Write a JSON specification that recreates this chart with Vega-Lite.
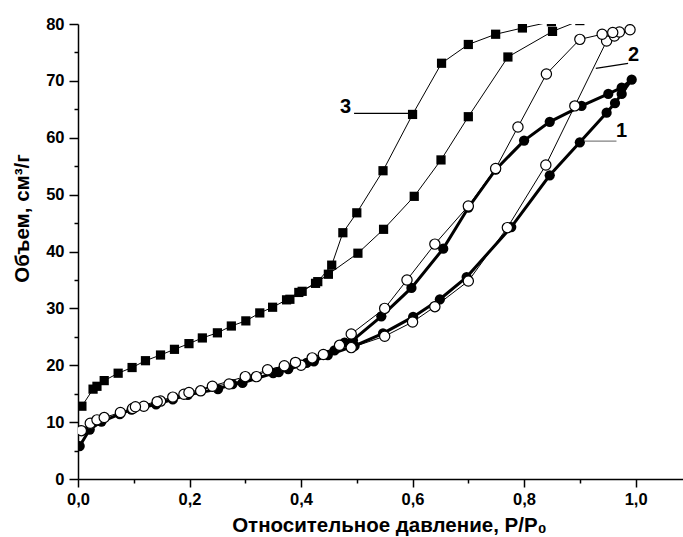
{
  "$schema": "https://vega.github.io/schema/vega-lite/v6.json",
  "width": 605,
  "height": 455,
  "autosize": {"type": "none"},
  "padding": {"left": 78, "top": 24, "right": 0, "bottom": 58},
  "background": "white",
  "config": {"view": {"stroke": null}, "font": "Liberation Sans"},
  "datasets": {
    "s1": [
      {"i": 1, "P": 0.003, "V": 5.8}, {"i": 2, "P": 0.021, "V": 8.7}, {"i": 3, "P": 0.042, "V": 10.1},
      {"i": 4, "P": 0.075, "V": 11.4}, {"i": 5, "P": 0.096, "V": 12.2}, {"i": 6, "P": 0.14, "V": 13.1},
      {"i": 7, "P": 0.17, "V": 14.0}, {"i": 8, "P": 0.197, "V": 14.8}, {"i": 9, "P": 0.251, "V": 15.8},
      {"i": 10, "P": 0.277, "V": 16.7}, {"i": 11, "P": 0.295, "V": 16.9}, {"i": 12, "P": 0.35, "V": 18.6},
      {"i": 13, "P": 0.377, "V": 19.3}, {"i": 14, "P": 0.423, "V": 20.7}, {"i": 15, "P": 0.448, "V": 21.8},
      {"i": 16, "P": 0.496, "V": 23.4}, {"i": 17, "P": 0.547, "V": 25.6}, {"i": 18, "P": 0.601, "V": 28.5},
      {"i": 19, "P": 0.649, "V": 31.6}, {"i": 20, "P": 0.697, "V": 35.5}, {"i": 21, "P": 0.777, "V": 44.3},
      {"i": 22, "P": 0.846, "V": 53.4}, {"i": 23, "P": 0.9, "V": 59.2}, {"i": 24, "P": 0.948, "V": 64.4},
      {"i": 25, "P": 0.963, "V": 66.1}, {"i": 26, "P": 0.975, "V": 67.7}, {"i": 27, "P": 0.993, "V": 70.2},
      {"i": 28, "P": 0.975, "V": 68.8}, {"i": 29, "P": 0.951, "V": 67.7}, {"i": 30, "P": 0.903, "V": 65.6},
      {"i": 31, "P": 0.846, "V": 62.8}, {"i": 32, "P": 0.8, "V": 59.5}, {"i": 33, "P": 0.749, "V": 54.4},
      {"i": 34, "P": 0.7, "V": 47.7}, {"i": 35, "P": 0.655, "V": 40.5}, {"i": 36, "P": 0.598, "V": 33.6},
      {"i": 37, "P": 0.544, "V": 28.6}, {"i": 38, "P": 0.493, "V": 24.4}, {"i": 39, "P": 0.478, "V": 24.0},
      {"i": 40, "P": 0.46, "V": 22.6}, {"i": 41, "P": 0.41, "V": 20.4}, {"i": 42, "P": 0.36, "V": 18.8}
    ],
    "s2": [
      {"i": 1, "P": 0.006, "V": 8.5}, {"i": 2, "P": 0.022, "V": 9.8}, {"i": 3, "P": 0.034, "V": 10.4},
      {"i": 4, "P": 0.047, "V": 10.8}, {"i": 5, "P": 0.076, "V": 11.7}, {"i": 6, "P": 0.098, "V": 12.4},
      {"i": 7, "P": 0.118, "V": 12.8}, {"i": 8, "P": 0.148, "V": 13.7}, {"i": 9, "P": 0.17, "V": 14.4},
      {"i": 10, "P": 0.19, "V": 14.9}, {"i": 11, "P": 0.22, "V": 15.5}, {"i": 12, "P": 0.241, "V": 16.3},
      {"i": 13, "P": 0.271, "V": 16.7}, {"i": 14, "P": 0.32, "V": 18.0}, {"i": 15, "P": 0.34, "V": 19.2},
      {"i": 16, "P": 0.37, "V": 19.9}, {"i": 17, "P": 0.4, "V": 20.0}, {"i": 18, "P": 0.44, "V": 21.9},
      {"i": 19, "P": 0.49, "V": 23.1}, {"i": 20, "P": 0.55, "V": 25.1}, {"i": 21, "P": 0.6, "V": 27.6},
      {"i": 22, "P": 0.64, "V": 30.3}, {"i": 23, "P": 0.7, "V": 34.8}, {"i": 24, "P": 0.77, "V": 44.2},
      {"i": 25, "P": 0.839, "V": 55.2}, {"i": 26, "P": 0.891, "V": 65.6}, {"i": 27, "P": 0.948, "V": 77.0},
      {"i": 28, "P": 0.962, "V": 77.9}, {"i": 29, "P": 0.99, "V": 79.0}, {"i": 30, "P": 0.971, "V": 78.6},
      {"i": 31, "P": 0.959, "V": 78.5}, {"i": 32, "P": 0.94, "V": 78.2}, {"i": 33, "P": 0.9, "V": 77.3},
      {"i": 34, "P": 0.84, "V": 71.2}, {"i": 35, "P": 0.789, "V": 61.9}, {"i": 36, "P": 0.749, "V": 54.6},
      {"i": 37, "P": 0.7, "V": 48.0}, {"i": 38, "P": 0.64, "V": 41.3}, {"i": 39, "P": 0.59, "V": 35.0},
      {"i": 40, "P": 0.55, "V": 30.0}, {"i": 41, "P": 0.49, "V": 25.5}, {"i": 42, "P": 0.469, "V": 23.5},
      {"i": 43, "P": 0.42, "V": 21.3}, {"i": 44, "P": 0.39, "V": 20.5}, {"i": 45, "P": 0.3, "V": 18.0},
      {"i": 46, "P": 0.199, "V": 15.2}, {"i": 47, "P": 0.142, "V": 13.6}, {"i": 48, "P": 0.103, "V": 12.7}
    ],
    "s3": [
      {"i": 1, "P": 0.007, "V": 12.8}, {"i": 2, "P": 0.027, "V": 15.8}, {"i": 3, "P": 0.034, "V": 16.3},
      {"i": 4, "P": 0.047, "V": 17.3}, {"i": 5, "P": 0.072, "V": 18.6}, {"i": 6, "P": 0.097, "V": 19.6},
      {"i": 7, "P": 0.121, "V": 20.8}, {"i": 8, "P": 0.148, "V": 21.8}, {"i": 9, "P": 0.173, "V": 22.8},
      {"i": 10, "P": 0.199, "V": 23.8}, {"i": 11, "P": 0.223, "V": 24.8}, {"i": 12, "P": 0.25, "V": 25.7},
      {"i": 13, "P": 0.275, "V": 26.9}, {"i": 14, "P": 0.301, "V": 27.8}, {"i": 15, "P": 0.326, "V": 29.2},
      {"i": 16, "P": 0.349, "V": 30.2}, {"i": 17, "P": 0.374, "V": 31.5}, {"i": 18, "P": 0.396, "V": 32.8},
      {"i": 19, "P": 0.426, "V": 34.4}, {"i": 20, "P": 0.449, "V": 36.0}, {"i": 21, "P": 0.502, "V": 39.7},
      {"i": 22, "P": 0.548, "V": 43.9}, {"i": 23, "P": 0.603, "V": 49.7}, {"i": 24, "P": 0.651, "V": 56.1},
      {"i": 25, "P": 0.7, "V": 63.7}, {"i": 26, "P": 0.771, "V": 74.2}, {"i": 27, "P": 0.851, "V": 78.7},
      {"i": 28, "P": 0.9, "V": 80.6}, {"i": 29, "P": 0.849, "V": 80.4}, {"i": 30, "P": 0.797, "V": 79.3},
      {"i": 31, "P": 0.749, "V": 78.2}, {"i": 32, "P": 0.7, "V": 76.4}, {"i": 33, "P": 0.652, "V": 73.1},
      {"i": 34, "P": 0.6, "V": 64.1}, {"i": 35, "P": 0.547, "V": 54.2}, {"i": 36, "P": 0.5, "V": 46.8},
      {"i": 37, "P": 0.475, "V": 43.3}, {"i": 38, "P": 0.455, "V": 37.6}, {"i": 39, "P": 0.43, "V": 34.7},
      {"i": 40, "P": 0.402, "V": 33.0}, {"i": 41, "P": 0.38, "V": 31.6}
    ],
    "labels": [
      {"label": "3", "P": 0.48, "V": 65.4, "P1": 0.4951, "V1": 64.27, "P2": 0.598, "V2": 64.27},
      {"label": "2", "P": 0.9964, "V": 74.5, "P1": 0.9286, "V1": 72.18, "P2": 0.9865, "V2": 73.06},
      {"label": "1", "P": 0.975, "V": 61.25, "P1": 0.9089, "V1": 59.4, "P2": 0.9657, "V2": 59.4}
    ]
  },
  "encoding": {
    "x": {
      "field": "P", "type": "quantitative",
      "scale": {"domain": [0, 1.085], "nice": false, "zero": false},
      "axis": {
        "title": "Относительное давление, P/P₀",
        "values": [0, 0.1, 0.2, 0.3, 0.4, 0.5, 0.6, 0.7, 0.8, 0.9, 1.0],
        "labelExpr": "round(datum.value*10) % 2 === 0 ? replace(format(datum.value, '.1f'), '.', ',') : ''",
        "tickSize": {"condition": {"test": "round(datum.value*10) % 2 === 0", "value": 8}, "value": 4},
        "grid": false,
        "domainColor": "black", "domainWidth": 1.5,
        "tickColor": "black", "tickWidth": 1.5,
        "labelFont": "Liberation Sans", "labelFontWeight": "bold", "labelFontSize": 16.5, "labelColor": "black",
        "labelPadding": 4, "labelFlush": false,
        "titleFont": "Liberation Sans", "titleFontWeight": "bold", "titleFontSize": 20.5, "titleColor": "black",
        "titleX": 311, "titleY": 52, "titleBaseline": "alphabetic"
      }
    },
    "y": {
      "field": "V", "type": "quantitative",
      "scale": {"domain": [0, 80], "nice": false, "zero": false},
      "axis": {
        "title": "Объем, см³/г",
        "values": [0, 5, 10, 15, 20, 25, 30, 35, 40, 45, 50, 55, 60, 65, 70, 75, 80],
        "labelExpr": "datum.value % 10 === 0 ? format(datum.value, 'd') : ''",
        "tickSize": {"condition": {"test": "datum.value % 10 === 0", "value": 9}, "value": 4},
        "grid": false,
        "domainColor": "black", "domainWidth": 1.5,
        "tickColor": "black", "tickWidth": 1.5,
        "labelFont": "Liberation Sans", "labelFontWeight": "bold", "labelFontSize": 16.5, "labelColor": "black",
        "labelPadding": 5, "labelFlush": false,
        "titleFont": "Liberation Sans", "titleFontWeight": "bold", "titleFontSize": 20.5, "titleColor": "black",
        "titleX": -56, "titleY": 194, "titleBaseline": "middle", "titleAngle": 270
      }
    }
  },
  "layer": [
    {"data": {"name": "s3"}, "mark": {"type": "line", "color": "black", "strokeWidth": 1, "clip": true}, "encoding": {"order": {"field": "i", "type": "quantitative"}}},
    {"data": {"name": "s3"}, "mark": {"type": "point", "shape": "square", "filled": true, "color": "black", "size": 85, "opacity": 1, "clip": true}},
    {"data": {"name": "s1"}, "mark": {"type": "line", "color": "black", "strokeWidth": 3, "clip": true}, "encoding": {"order": {"field": "i", "type": "quantitative"}}},
    {"data": {"name": "s1"}, "mark": {"type": "point", "shape": "circle", "filled": true, "color": "black", "size": 105, "opacity": 1, "clip": true}},
    {"data": {"name": "s2"}, "mark": {"type": "line", "color": "black", "strokeWidth": 1, "clip": true}, "encoding": {"order": {"field": "i", "type": "quantitative"}}},
    {"data": {"name": "s2"}, "mark": {"type": "point", "shape": "circle", "filled": false, "fill": "white", "stroke": "black", "strokeWidth": 1.2, "size": 105, "opacity": 1, "fillOpacity": 1, "clip": true}},
    {"data": {"name": "labels"}, "mark": {"type": "rule", "strokeWidth": 1.3},
      "encoding": {
        "x": {"field": "P1", "type": "quantitative"}, "x2": {"field": "P2"},
        "y": {"field": "V1", "type": "quantitative"}, "y2": {"field": "V2"},
        "color": {"condition": {"test": "datum.label === '1'", "value": "#808080"}, "value": "black"}
      }},
    {"data": {"name": "labels"}, "mark": {"type": "text", "font": "Liberation Sans", "fontWeight": "bold", "fontSize": 20, "align": "center", "baseline": "middle", "color": "black"},
      "encoding": {"text": {"field": "label"}}}
  ]
}
